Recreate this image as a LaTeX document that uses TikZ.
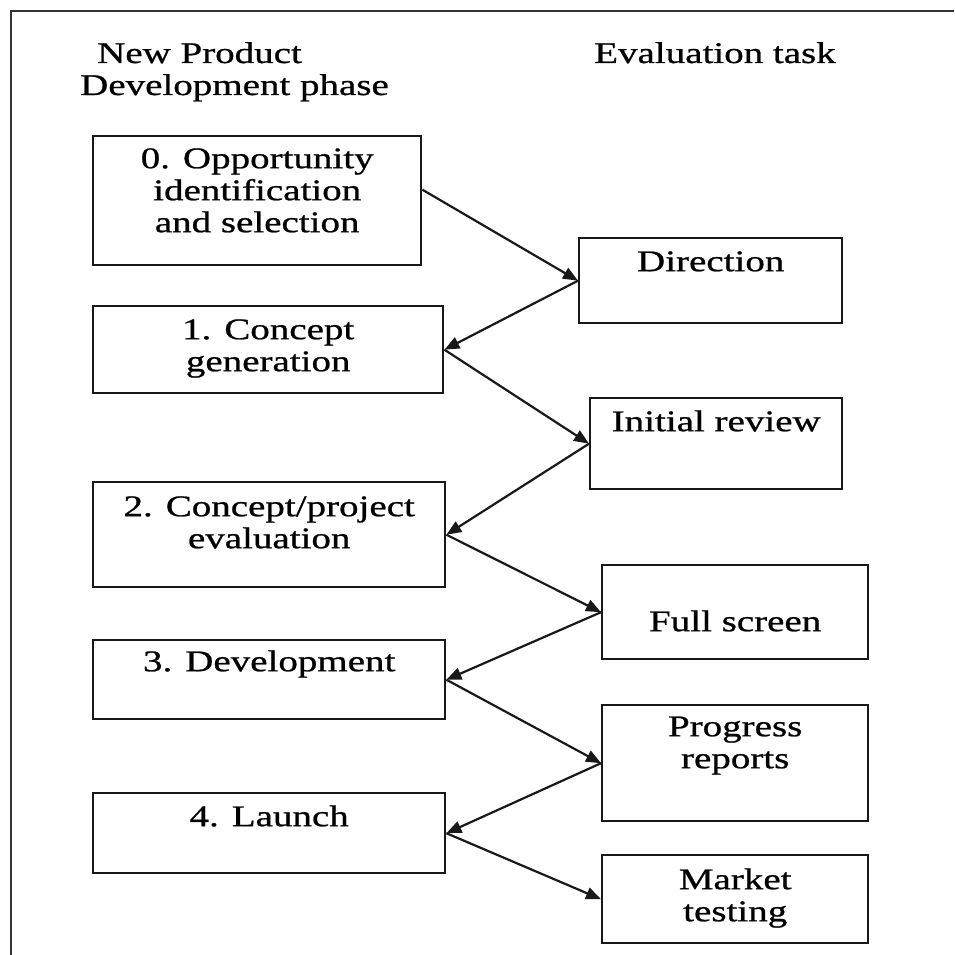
\documentclass[tikz,border=0pt]{standalone}
\usepackage{fontspec}
\setmainfont{Liberation Serif}[FakeStretch=1.3, FakeBold=0.8]
\usetikzlibrary{arrows.meta}
\newcommand{\boxtxt}[2]{\parbox[t]{#1}{\centering #2}}
\tikzset{
  phasebox/.style={
    rectangle, draw=black!90, line width=2.4pt,
    inner sep=0pt, anchor=north west
  },
  taskbox/.style={
    rectangle, draw=black!90, line width=2.4pt,
    inner sep=0pt, anchor=north west
  },
  flowarrow/.style={
    -{Triangle[length=15pt, width=12pt]}, line width=2.2pt, color=black!90
  },
  headnode/.style={inner sep=0pt},
}
\begin{document}
\begin{tikzpicture}[
  x=1pt, y=-1pt,
  every node/.style={font=\fontsize{30}{32}\selectfont}
]
\useasboundingbox (0,0) rectangle (954,955);
\draw[line width=2.4pt, black!80] (954,11) -- (11,11) -- (11,955);

% ── column headings ──
\node[headnode, anchor=base west] (hdphase) at (80,63)
  {\parbox[t]{330pt}{\raggedright\hspace*{17pt}New Product\\Development phase}};
\node[headnode, anchor=base] (hdtask) at (715,63) {Evaluation task};

% ── phases ──
\node[phasebox, text height=32pt, text depth=97pt] (p0) at (92,135)
  {\boxtxt{328pt}{0. Opportunity\\identification\\and selection}};
\node[phasebox, text height=33pt, text depth=54pt] (p1) at (92,305)
  {\boxtxt{350pt}{1. Concept\\generation}};
\node[phasebox, text height=34pt, text depth=71pt] (p2) at (92,481)
  {\boxtxt{352pt}{2. Concept/project\\evaluation}};
\node[phasebox, text height=31pt, text depth=48pt] (p3) at (92,639)
  {\boxtxt{352pt}{3. Development}};
\node[phasebox, text height=33pt, text depth=47pt] (p4) at (92,792)
  {\boxtxt{352pt}{4. Launch}};

% ── evaluation tasks ──
\node[taskbox, text height=33pt, text depth=52pt] (t0) at (578,237)
  {\boxtxt{263pt}{Direction}};
\node[taskbox, text height=33pt, text depth=58pt] (t1) at (589,397)
  {\boxtxt{252pt}{Initial review}};
\node[taskbox, text height=66pt, text depth=28pt] (t2) at (601,564)
  {\boxtxt{266pt}{Full screen}};
\node[taskbox, text height=31pt, text depth=85pt] (t3) at (601,704)
  {\boxtxt{266pt}{Progress\\reports}};
\node[taskbox, text height=34pt, text depth=54pt] (t4) at (601,854)
  {\boxtxt{266pt}{Market\\testing}};

% ── zigzag ──
\draw[flowarrow] ([yshift=11pt]p0.east) -- (t0.west);
\draw[flowarrow] (t0.west) -- (p1.east);
\draw[flowarrow] (p1.east) -- (t1.west);
\draw[flowarrow] (t1.west) -- (p2.east);
\draw[flowarrow] (p2.east) -- (t2.west);
\draw[flowarrow] (t2.west) -- (p3.east);
\draw[flowarrow] (p3.east) -- (t3.west);
\draw[flowarrow] (t3.west) -- (p4.east);
\draw[flowarrow] (p4.east) -- (t4.west);

\end{tikzpicture}
\end{document}
